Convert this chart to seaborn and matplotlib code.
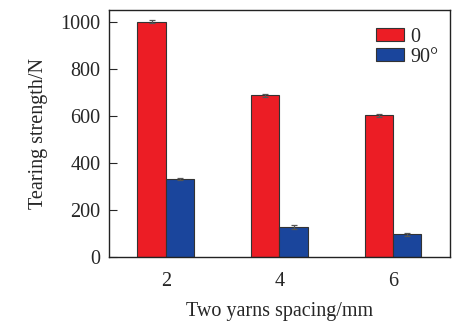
import matplotlib
matplotlib.use("Agg")
import matplotlib.pyplot as plt
import seaborn as sns
import pandas as pd

spacing = ["2", "4", "6"]
series = ["0", "90°"]
strength_0 = [1000, 686, 601]
strength_90 = [331, 126, 95]
err_0 = [5, 6, 7]
err_90 = [5, 8, 6]

sns.set_theme(style="white")
plt.rcParams["font.family"] = ["Liberation Serif", "DejaVu Serif"]

df = pd.DataFrame({
    "spacing": spacing * 2,
    "angle": [series[0]] * 3 + [series[1]] * 3,
    "value": strength_0 + strength_90,
})

fig, ax = plt.subplots(figsize=(4.76, 3.28), dpi=100)
fig.subplots_adjust(left=0.229, right=0.945, top=0.97, bottom=0.217)

palette = {"0": "#EC1D25", "90°": "#1A459C"}
sns.barplot(data=df, x="spacing", y="value", hue="angle", order=spacing,
            hue_order=series, palette=palette, width=0.5, errorbar=None,
            edgecolor="#333333", linewidth=0.8, saturation=1, ax=ax)

errs = err_0 + err_90
vals = strength_0 + strength_90
bars = [p for p in ax.patches if p.get_height() > 0][:6]
for p, v, e in zip(bars, vals, errs):
    ax.errorbar(p.get_x() + p.get_width() / 2, v, yerr=e, fmt="none",
                ecolor="#555555", elinewidth=0.9, capsize=2, capthick=0.9)

fs = 14.5
ax.set_ylim(0, 1050)
ax.set_yticks([0, 200, 400, 600, 800, 1000])
ax.set_xlim(-0.5, 2.5)
ax.tick_params(axis="y", direction="in", length=6, width=0.8, labelsize=fs,
               left=True, pad=6)
ax.tick_params(axis="x", length=0, labelsize=fs, pad=11)
ax.set_xlabel("Two yarns spacing/mm", fontsize=fs, labelpad=8)
ax.set_ylabel("Tearing strength/N", fontsize=fs, labelpad=9)
for s in ax.spines.values():
    s.set_color("#222222")
    s.set_linewidth(1.0)

leg = ax.legend(loc="upper right", bbox_to_anchor=(1.008, 0.985), frameon=False,
                fontsize=fs, handlelength=1.4, handleheight=0.55,
                handletextpad=0.3, labelspacing=0.05, borderaxespad=0.3,
                title=None)
for h in leg.legend_handles:
    h.set_edgecolor("#333333")

fig.savefig("out.png", dpi=100)
